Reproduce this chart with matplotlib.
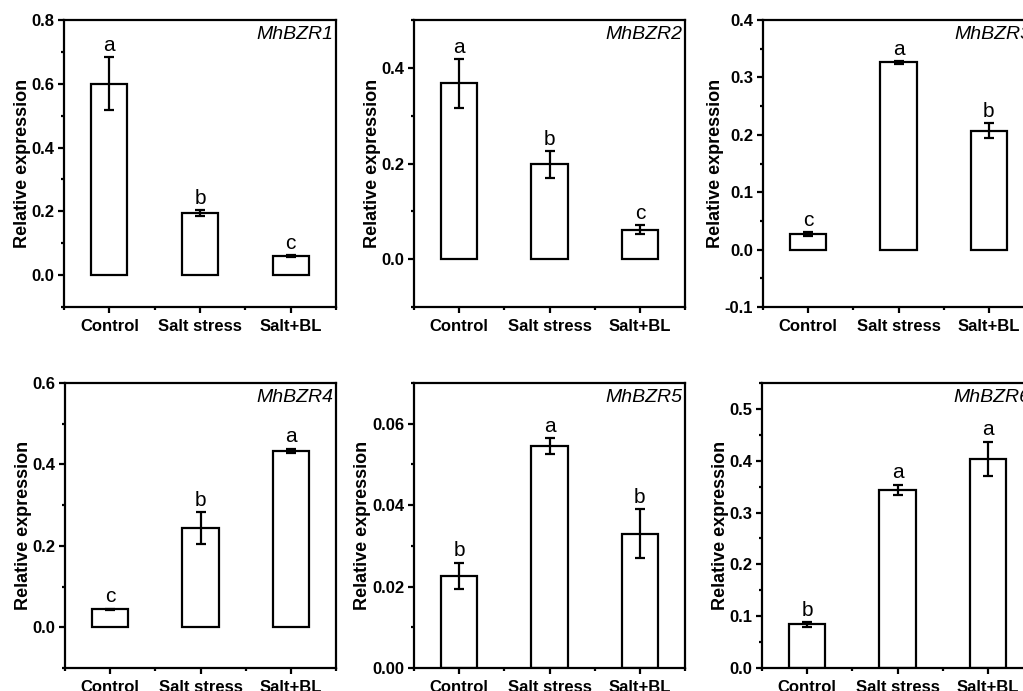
import numpy as np
import matplotlib.pyplot as plt
from matplotlib.ticker import MultipleLocator

plt.rcParams['font.family'] = ['Liberation Sans', 'DejaVu Sans']
plt.rcParams['font.weight'] = 'bold'
plt.rcParams['axes.labelweight'] = 'bold'
plt.rcParams['axes.unicode_minus'] = False

# treatments on the x axis
categories = ["Control", "Salt stress", "Salt+BL"]
genes = ["MhBZR1", "MhBZR2", "MhBZR3", "MhBZR4", "MhBZR5", "MhBZR6"]

# relative expression (mean), error and significance letters per gene
bzr1_mean = [0.600, 0.195, 0.060]
bzr1_err = [0.083, 0.009, 0.004]
bzr1_sig = ["a", "b", "c"]

bzr2_mean = [0.368, 0.198, 0.062]
bzr2_err = [0.051, 0.029, 0.010]
bzr2_sig = ["a", "b", "c"]

bzr3_mean = [0.027, 0.326, 0.207]
bzr3_err = [0.004, 0.002, 0.013]
bzr3_sig = ["c", "a", "b"]

bzr4_mean = [0.044, 0.244, 0.434]
bzr4_err = [0.002, 0.040, 0.005]
bzr4_sig = ["c", "b", "a"]

bzr5_mean = [0.0227, 0.0545, 0.0330]
bzr5_err = [0.0032, 0.0020, 0.0060]
bzr5_sig = ["b", "a", "b"]

bzr6_mean = [0.084, 0.344, 0.404]
bzr6_err = [0.004, 0.010, 0.033]
bzr6_sig = ["b", "a", "a"]

means = [bzr1_mean, bzr2_mean, bzr3_mean, bzr4_mean, bzr5_mean, bzr6_mean]
errs = [bzr1_err, bzr2_err, bzr3_err, bzr4_err, bzr5_err, bzr6_err]
sigs = [bzr1_sig, bzr2_sig, bzr3_sig, bzr4_sig, bzr5_sig, bzr6_sig]

ylims = [(-0.1, 0.8), (-0.1, 0.5), (-0.1, 0.4), (-0.1, 0.6), (0, 0.07), (0, 0.55)]
major_steps = [0.2, 0.2, 0.1, 0.2, 0.02, 0.1]

# axes boxes in pixels (left, top, right, bottom); the right column runs past the edge
W, H = 1023, 691
boxes = [(64, 20, 336, 307), (414, 20, 685, 307), (763, 20, 1034, 307),
         (65, 383, 336, 668), (414, 383, 685, 668), (762, 383, 1033, 668)]

fig = plt.figure(figsize=(W / 100, H / 100), dpi=100)
x = np.arange(1, len(categories) + 1)

for i, gene in enumerate(genes):
    l, t, r, b = boxes[i]
    ax = fig.add_axes([l / W, 1 - b / H, (r - l) / W, (b - t) / H])

    ax.bar(x, means[i], width=0.4, color='white', edgecolor='black', linewidth=1.6, zorder=2)
    ax.errorbar(x, means[i], yerr=errs[i], fmt='none', ecolor='black',
                elinewidth=1.6, capsize=3.5, capthick=1.6, zorder=3)
    for xi, m, e, s in zip(x, means[i], errs[i], sigs[i]):
        ax.annotate(s, (xi, m + e), xytext=(0, 1.5), textcoords='offset points',
                    ha='center', va='bottom', fontsize=15, fontweight='normal')

    ax.text(0.99, 0.978, gene, transform=ax.transAxes, ha='right', va='top',
            fontsize=14, fontstyle='italic', fontweight='normal')

    ax.set_xlim(0.5, 3.5)
    ax.set_ylim(*ylims[i])
    ax.set_xticks(x)
    ax.set_xticklabels(categories)
    ax.set_xticks([0.5, 1.5, 2.5, 3.5], minor=True)
    ax.yaxis.set_major_locator(MultipleLocator(major_steps[i]))
    ax.yaxis.set_minor_locator(MultipleLocator(major_steps[i] / 2))
    ax.set_ylabel("Relative expression", fontsize=13, labelpad=0.5)

    ax.tick_params(which='major', direction='out', length=4.5, width=1.6, labelsize=12, pad=2.5)
    ax.tick_params(which='minor', direction='out', length=2.5, width=1.6)
    ax.tick_params(axis='x', which='major', pad=4)
    for sp in ax.spines.values():
        sp.set_linewidth(1.6)

fig.savefig("out.png", dpi=100)
